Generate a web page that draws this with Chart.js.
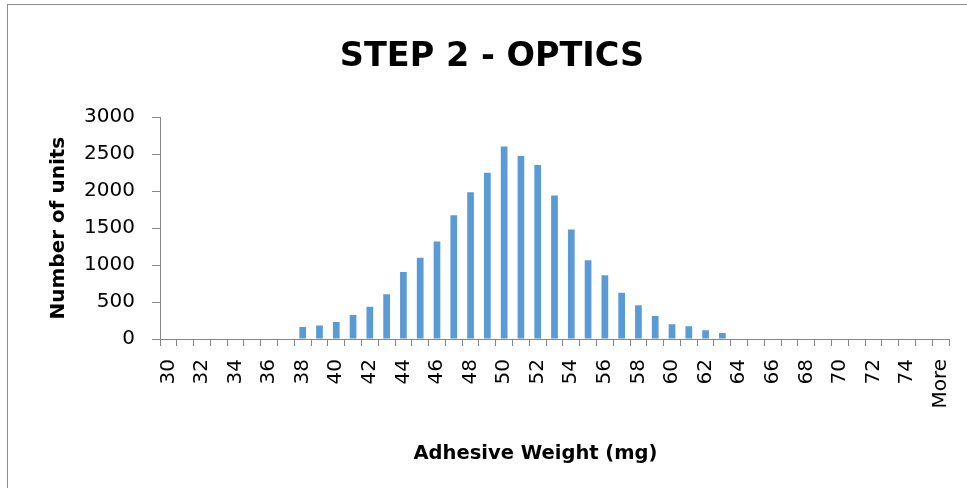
<!DOCTYPE html>
<html>
<head>
<meta charset="utf-8">
<script src="https://cdn.jsdelivr.net/npm/chart.js@4"></script>
<style>
    html, body { margin: 0; padding: 0; background: #fff; overflow: hidden; }
    #wrap { position: relative; width: 967px; height: 488px; }
    #frame {
        position: absolute; left: 7px; top: 4px; width: 1000px; height: 520px;
        border-left: 1px solid #8c8c8c; border-top: 1px solid #8c8c8c;
    }
    #chart { position: absolute; left: 0; top: 0; }
</style>
</head>
<body>
<div id="wrap">
    <div id="frame"></div>
    <canvas id="chart" width="967" height="488"></canvas>
</div>
<script>
const chartTitle = 'STEP 2 - OPTICS'
const xTitle = 'Adhesive Weight (mg)'
const yTitle = 'Number of units'

// бины гистограммы
const bins = ['30', '31', '32', '33', '34', '35', '36', '37', '38', '39',
    '40', '41', '42', '43', '44', '45', '46', '47', '48', '49',
    '50', '51', '52', '53', '54', '55', '56', '57', '58', '59',
    '60', '61', '62', '63', '64', '65', '66', '67', '68', '69',
    '70', '71', '72', '73', '74', '75', 'More']

const counts = [0, 0, 0, 0, 0, 0, 0, 0, 162, 184,
    229, 323, 436, 606, 907, 1100, 1320, 1675, 1985, 2250,
    2605, 2475, 2353, 1940, 1482, 1064, 862, 624, 458, 310,
    198, 171, 117, 81, 0, 0, 0, 0, 0, 0,
    0, 0, 0, 0, 0, 0, 0]

const yTicks = [0, 500, 1000, 1500, 2000, 2500, 3000]

const axisGray = '#868686'
const fontFamily = '"DejaVu Sans", sans-serif'

// подпись оси X рисуем сами — в оригинале она не по центру области графика
const xTitlePlugin = {
    id: 'xTitle',
    afterDraw(chart) {
        const { ctx, chartArea } = chart
        const cx = (chartArea.left + chartArea.right) / 2 - 19
        ctx.save()
        ctx.font = 'bold 19.5px ' + fontFamily
        ctx.fillStyle = '#000'
        ctx.textAlign = 'center'
        ctx.textBaseline = 'middle'
        ctx.fillText(xTitle, cx, 454)
        ctx.restore()
    }
}

const ctx = document.querySelector('#chart')

new Chart(ctx, {
    type: 'bar',
    data: {
        labels: bins,
        datasets: [{
            label: yTitle,
            data: counts,
            backgroundColor: '#5b9bd5',
            categoryPercentage: 1,
            barPercentage: 0.4
        }]
    },
    options: {
        responsive: false,
        animation: false,
        layout: { padding: { left: 35, right: 18, top: 0, bottom: 0 } },
        plugins: {
            legend: { display: false },
            tooltip: { enabled: false },
            title: {
                display: true,
                text: chartTitle,
                color: '#000',
                font: { family: fontFamily, size: 33.5, weight: 'bold' },
                padding: { top: 37, bottom: 40 }
            }
        },
        scales: {
            x: {
                afterFit: (scale) => {
                    scale.height = 149
                    // чтобы отступы задавались только через layout.padding
                    scale.paddingLeft = 0
                    scale.paddingRight = 0
                },
                border: { color: axisGray, width: 1 },
                grid: { drawOnChartArea: false, drawTicks: true, tickLength: 7, color: axisGray, offset: true },
                ticks: {
                    autoSkip: false,
                    minRotation: 90,
                    maxRotation: 90,
                    padding: 13,
                    color: '#000',
                    font: { family: fontFamily, size: 20 },
                    callback: function (val, i) {
                        return i % 2 === 0 ? this.getLabelForValue(val) : ''
                    }
                }
            },
            y: {
                min: 0,
                max: 3000,
                afterFit: (scale) => { scale.width = 125 },
                afterBuildTicks: (scale) => { scale.ticks = yTicks.map(v => ({ value: v })) },
                border: { color: axisGray, width: 1 },
                grid: { drawOnChartArea: false, drawTicks: true, tickLength: 8, color: axisGray },
                ticks: {
                    padding: 17,
                    color: '#000',
                    font: { family: fontFamily, size: 20 },
                    callback: (v) => String(v)
                },
                title: {
                    display: true,
                    text: yTitle,
                    color: '#000',
                    font: { family: fontFamily, size: 20, weight: 'bold' },
                    padding: { top: 12, bottom: 0 }
                }
            }
        }
    },
    plugins: [xTitlePlugin]
})
</script>
</body>
</html>
